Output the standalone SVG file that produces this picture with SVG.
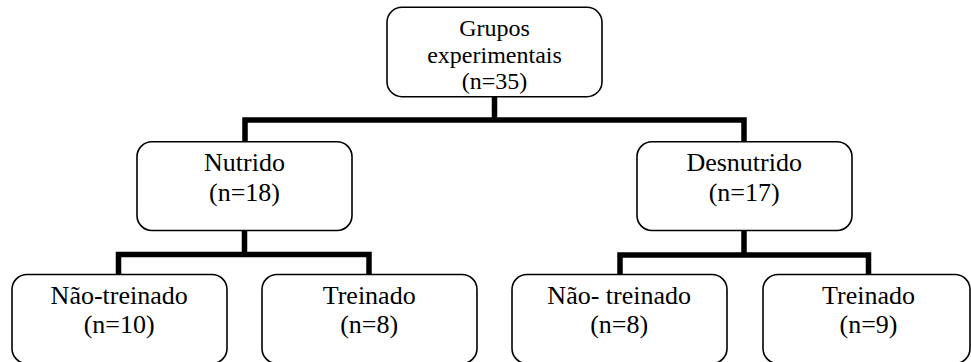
<svg xmlns="http://www.w3.org/2000/svg" width="971" height="362" viewBox="0 0 971 362">
<style>
.box{fill:#fff;stroke:#000;stroke-width:1.6}
.t{font-family:"Liberation Serif","Times New Roman",serif;font-size:26px;fill:#000;text-anchor:middle}
.t24{font-size:24px}
.c{fill:none;stroke:#000;stroke-width:5.5;stroke-linejoin:miter;stroke-linecap:butt}
</style>
<rect width="971" height="362" fill="#fff"/>
<g id="connectors">
<path class="c" d="M494.5,96.7 V120 M245,142 V120 H744 V142"/>
<path class="c" d="M244.5,230.5 V254.5 M118.5,274.5 V254.5 H369 V274.5"/>
<path class="c" d="M744,230.5 V255 M620,274.5 V255 H868.5 V274.5"/>
</g>
<g id="node-grupos">
<rect class="box" x="387" y="7.3" width="215" height="89.4" rx="15"/>
<text class="t t24" x="494.5" y="36">Grupos</text>
<text class="t t24" x="494.5" y="62.5">experimentais</text>
<text class="t t24" x="494.5" y="89">(n=35)</text>
</g>
<g id="node-nutrido">
<rect class="box" x="137" y="141.7" width="215" height="88.8" rx="15"/>
<text class="t" x="244.5" y="171">Nutrido</text>
<text class="t" x="244.5" y="200.5">(n=18)</text>
</g>
<g id="node-desnutrido">
<rect class="box" x="637" y="141.7" width="215" height="88.8" rx="15"/>
<text class="t" x="744.2" y="171">Desnutrido</text>
<text class="t" x="744.2" y="200.5">(n=17)</text>
</g>
<g id="node-nutrido-naotreinado">
<rect class="box" x="12" y="274.5" width="215" height="89" rx="15"/>
<text class="t" x="119.2" y="304">Não-treinado</text>
<text class="t" x="119.2" y="333">(n=10)</text>
</g>
<g id="node-nutrido-treinado">
<rect class="box" x="262" y="274.5" width="215" height="89" rx="15"/>
<text class="t" x="369.2" y="304">Treinado</text>
<text class="t" x="369.2" y="333">(n=8)</text>
</g>
<g id="node-desnutrido-naotreinado">
<rect class="box" x="512" y="274.5" width="215" height="89" rx="15"/>
<text class="t" x="619.2" y="304">Não- treinado</text>
<text class="t" x="619.2" y="333">(n=8)</text>
</g>
<g id="node-desnutrido-treinado">
<rect class="box" x="763" y="274.5" width="207" height="89" rx="15"/>
<text class="t" x="868.5" y="304">Treinado</text>
<text class="t" x="868.5" y="333">(n=9)</text>
</g>
</svg>
